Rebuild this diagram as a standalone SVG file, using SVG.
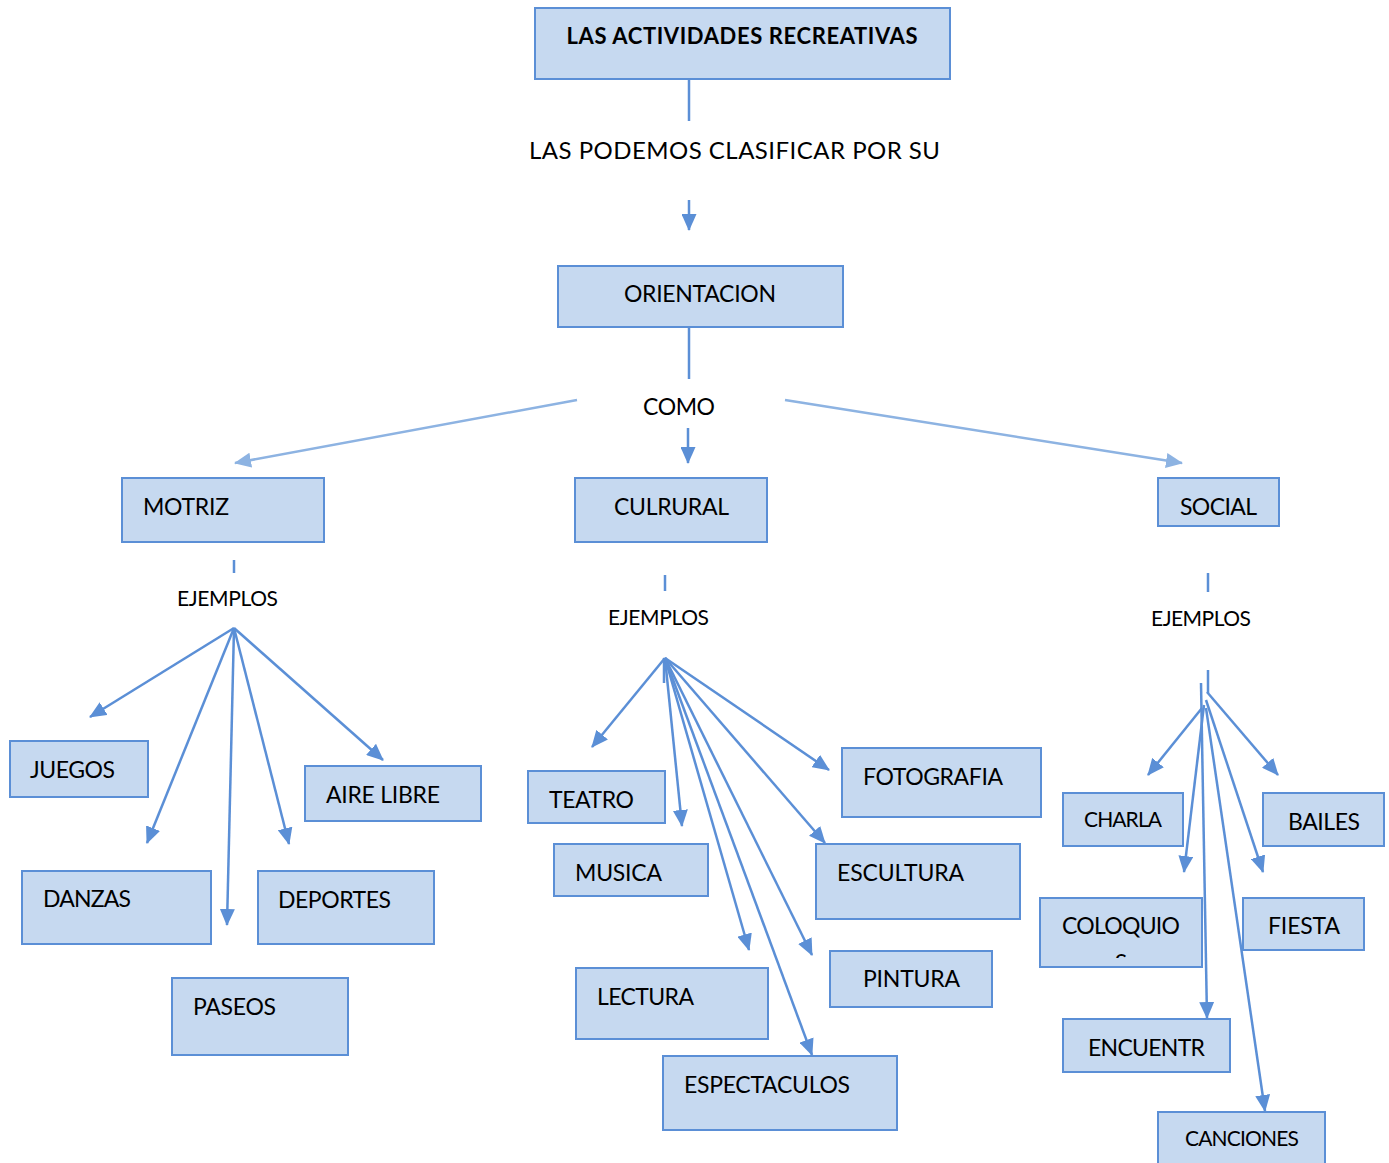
<svg xmlns="http://www.w3.org/2000/svg" width="1389" height="1163" viewBox="0 0 1389 1163">
<style>
.box{fill:#c6d9f0;stroke:#5b8fd6;stroke-width:2}
.t{font-family:Lato,"Liberation Sans",sans-serif;font-size:23px;fill:#000}
.s{font-family:Lato,"Liberation Sans",sans-serif;font-size:21px;fill:#000}
.b{font-family:Lato,"Liberation Sans",sans-serif;font-size:22px;font-weight:bold;fill:#000}
.c{stroke:#5b8fd6;stroke-width:2.5;fill:none}
.a{stroke:#5b8fd6;stroke-width:2.5;fill:none;marker-end:url(#ah)}
.l{stroke:#8db3e2;stroke-width:2.5;fill:none;marker-end:url(#ahl)}
</style>
<defs>
<marker id="ah" markerUnits="userSpaceOnUse" markerWidth="17" markerHeight="15" refX="16" refY="7.5" orient="auto" viewBox="0 0 17 15"><path d="M0,0 L17,7.5 L0,15 z" fill="#5b8fd6"/></marker>
<marker id="ahl" markerUnits="userSpaceOnUse" markerWidth="17" markerHeight="15" refX="16" refY="7.5" orient="auto" viewBox="0 0 17 15"><path d="M0,0 L17,7.5 L0,15 z" fill="#8db3e2"/></marker>
<clipPath id="colclip"><rect x="1041" y="899" width="160" height="59"/></clipPath>
</defs>
<rect width="1389" height="1163" fill="#fff"/>

<g id="connectors">
<line class="c" x1="689" y1="79" x2="689" y2="121"/>
<line class="a" x1="689" y1="200" x2="689" y2="230"/>
<line class="c" x1="689" y1="327" x2="689" y2="379"/>
<line class="a" x1="688" y1="428" x2="688" y2="463"/>
<line class="l" x1="577" y1="400" x2="235" y2="463"/>
<line class="l" x1="785" y1="400" x2="1182" y2="463"/>
<!-- motriz -->
<line class="c" x1="234" y1="560" x2="234" y2="573" stroke-width="2"/>
<line class="a" x1="234" y1="628" x2="90" y2="717"/>
<line class="a" x1="234" y1="628" x2="147" y2="843"/>
<line class="a" x1="234" y1="628" x2="227" y2="925"/>
<line class="a" x1="234" y1="628" x2="289" y2="844"/>
<line class="a" x1="234" y1="628" x2="383" y2="760"/>
<!-- cultural -->
<line class="c" x1="665" y1="575" x2="665" y2="591" stroke-width="2"/>
<line class="c" x1="664" y1="658" x2="664" y2="683" stroke-width="2"/>
<line class="a" x1="665" y1="658" x2="592" y2="747"/>
<line class="a" x1="665" y1="658" x2="682" y2="826"/>
<line class="a" x1="665" y1="658" x2="749" y2="950"/>
<line class="a" x1="665" y1="658" x2="812" y2="955"/>
<line class="a" x1="665" y1="658" x2="812" y2="1055"/>
<line class="a" x1="665" y1="658" x2="825" y2="843"/>
<line class="a" x1="665" y1="658" x2="829" y2="770"/>
<!-- social -->
<line class="c" x1="1208" y1="573" x2="1208" y2="592" stroke-width="2"/>
<line class="c" x1="1208" y1="670" x2="1208" y2="693" stroke-width="2"/>
<line class="a" x1="1201" y1="683" x2="1207" y2="1018"/>
<line class="a" x1="1202" y1="708" x2="1148" y2="775"/>
<line class="a" x1="1207" y1="692" x2="1278" y2="775"/>
<line class="a" x1="1204" y1="705" x2="1184" y2="872"/>
<line class="a" x1="1206" y1="700" x2="1263" y2="872"/>
<line class="a" x1="1206" y1="708" x2="1265" y2="1111"/>
</g>

<g id="title"><rect class="box" x="535" y="8" width="415" height="71"/><text class="b" x="742" y="44" text-anchor="middle" textLength="351">LAS ACTIVIDADES RECREATIVAS</text></g>
<g id="label-clasificar"><text class="t" x="529" y="159" style="font-size:24px" textLength="411">LAS PODEMOS CLASIFICAR POR SU</text></g>
<g id="orientacion"><rect class="box" x="558" y="266" width="285" height="61"/><text class="t" x="624" y="302" textLength="152">ORIENTACION</text></g>
<g id="label-como"><text class="t" x="643" y="415" textLength="72">COMO</text></g>

<g id="motriz"><rect class="box" x="122" y="478" width="202" height="64"/><text class="t" x="143" y="515" textLength="86">MOTRIZ</text></g>
<g id="cultural"><rect class="box" x="575" y="478" width="192" height="64"/><text class="t" x="614" y="515" textLength="115">CULRURAL</text></g>
<g id="social"><rect class="box" x="1158" y="478" width="121" height="48"/><text class="t" x="1180" y="515" textLength="77">SOCIAL</text></g>

<g id="ejemplos-motriz"><text class="s" x="177" y="606" textLength="101">EJEMPLOS</text></g>
<g id="ejemplos-cultural"><text class="s" x="608" y="625" textLength="101">EJEMPLOS</text></g>
<g id="ejemplos-social"><text class="s" x="1151" y="626" textLength="100">EJEMPLOS</text></g>

<g id="juegos"><rect class="box" x="10" y="741" width="138" height="56"/><text class="t" x="30" y="778" textLength="85">JUEGOS</text></g>
<g id="aire-libre"><rect class="box" x="305" y="766" width="176" height="55"/><text class="t" x="326" y="803" textLength="114">AIRE LIBRE</text></g>
<g id="danzas"><rect class="box" x="22" y="871" width="189" height="73"/><text class="t" x="43" y="907" textLength="88">DANZAS</text></g>
<g id="deportes"><rect class="box" x="258" y="871" width="176" height="73"/><text class="t" x="278" y="908" textLength="113">DEPORTES</text></g>
<g id="paseos"><rect class="box" x="172" y="978" width="176" height="77"/><text class="t" x="193" y="1015" textLength="83">PASEOS</text></g>

<g id="teatro"><rect class="box" x="528" y="771" width="137" height="52"/><text class="t" x="549" y="808" textLength="85">TEATRO</text></g>
<g id="musica"><rect class="box" x="554" y="844" width="154" height="52"/><text class="t" x="575" y="881" textLength="87">MUSICA</text></g>
<g id="lectura"><rect class="box" x="576" y="968" width="192" height="71"/><text class="t" x="597" y="1005" textLength="97">LECTURA</text></g>
<g id="espectaculos"><rect class="box" x="663" y="1056" width="234" height="74"/><text class="t" x="684" y="1093" textLength="166">ESPECTACULOS</text></g>
<g id="fotografia"><rect class="box" x="842" y="748" width="199" height="69"/><text class="t" x="863" y="785" textLength="140">FOTOGRAFIA</text></g>
<g id="escultura"><rect class="box" x="816" y="844" width="204" height="75"/><text class="t" x="837" y="881" textLength="127">ESCULTURA</text></g>
<g id="pintura"><rect class="box" x="830" y="951" width="162" height="56"/><text class="t" x="863" y="987" textLength="97">PINTURA</text></g>

<g id="charla"><rect class="box" x="1063" y="793" width="120" height="53"/><text class="s" x="1084" y="827" textLength="78">CHARLA</text></g>
<g id="bailes"><rect class="box" x="1263" y="793" width="121" height="53"/><text class="t" x="1288" y="830" textLength="72">BAILES</text></g>
<g id="coloquios"><rect class="box" x="1040" y="898" width="162" height="69"/><text class="t" x="1062" y="934" textLength="118">COLOQUIO</text><text class="t" x="1121" y="971" text-anchor="middle" clip-path="url(#colclip)">S</text></g>
<g id="fiesta"><rect class="box" x="1243" y="898" width="121" height="52"/><text class="t" x="1268" y="934" textLength="72">FIESTA</text></g>
<g id="encuentr"><rect class="box" x="1063" y="1019" width="167" height="53"/><text class="t" x="1088" y="1056" textLength="117">ENCUENTR</text></g>
<g id="canciones"><rect class="box" x="1158" y="1112" width="167" height="60"/><text class="s" x="1185" y="1146" textLength="114">CANCIONES</text></g>
</svg>
